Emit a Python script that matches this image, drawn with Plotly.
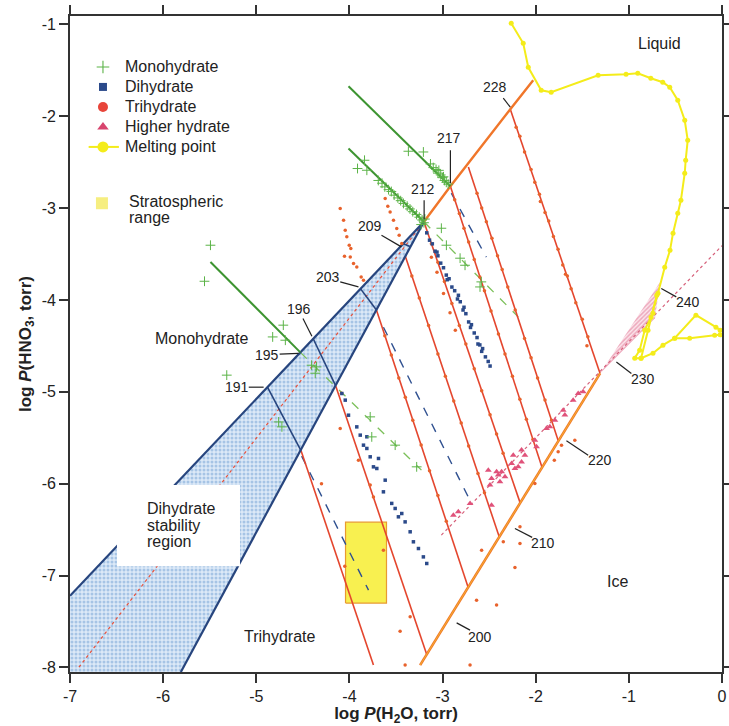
import plotly.graph_objects as go

# ---------------- data ----------------
x_ticks = [-7, -6, -5, -4, -3, -2, -1, 0]
x_ticklabels = ["-7", "-6", "-5", "-4", "-3", "-2", "-1", "0"]
y_ticks = [-1, -2, -3, -4, -5, -6, -7, -8]
y_ticklabels = ["-1", "-2", "-3", "-4", "-5", "-6", "-7", "-8"]

# dihydrate stability region (apex = 212 K point)
region_x = [-3.20, -7.00, -7.00, -5.81]
region_y = [-3.15, -7.22, -8.05, -8.05]
# boundary lines of the dihydrate region
bound_upper_x = [-3.20, -7.00]
bound_upper_y = [-3.15, -7.22]
bound_lower_x = [-3.20, -5.81]
bound_lower_y = [-3.15, -8.05]
# tie lines across dihydrate region (191, 196, 203, 209)
tie_x0 = [-4.88, -4.39, -3.88, -3.42]
tie_y0 = [-4.95, -4.42, -3.88, -3.39]
tie_x1 = [-4.52, -4.15, -3.71, -3.35]
tie_y1 = [-5.64, -4.93, -4.11, -3.42]

# trihydrate isotherms (red solid)
iso_x0 = [-4.52, -4.15, -3.71, -3.40, -3.20, -2.916, -2.723, -2.273]
iso_y0 = [-5.64, -4.93, -4.11, -3.525, -3.15, -2.763, -2.553, -1.925]
iso_x1 = [-3.742, -3.17, -2.723, -2.391, -2.166, -1.930, -1.759, -1.309]
iso_y1 = [-7.975, -7.86, -7.137, -6.582, -6.212, -5.83, -5.53, -4.80]

# ice frost line and NAT / liquid line
ice_x = [-3.241, -1.309]
ice_y = [-7.975, -4.80]
nat_x = [-3.20, -2.916, -2.273, -2.027]
nat_y = [-3.15, -2.763, -1.925, -1.609]
# NAT stoichiometric dotted line through the dihydrate region
natdot_x = [-6.904, -3.20]
natdot_y = [-7.997, -3.15]
# higher hydrate dotted line
hh_line_x = [-3.013, 0.0]
hh_line_y = [-6.56, -3.41]
# higher-hydrate fan wedge
fan_x = [-1.309, -0.666, -0.719]
fan_y = [-4.80, -3.807, -4.199]

# monohydrate lines (green solid)
mono_lines = [
    ([-4.01, -2.916], [-1.675, -2.763]),
    ([-4.01, -3.20], [-2.353, -3.15]),
    ([-5.492, -4.527], [-3.587, -4.571]),
]
# monohydrate dashed lines
mono_dash = [
    ([-3.20, -2.188], [-3.15, -4.185]),
    ([-4.527, -3.227], [-4.571, -5.853]),
]
# dihydrate dashed lines
di_dash = [
    ([-2.906, -2.530], [-2.839, -3.535]),
    ([-4.513, -3.795], [-5.70, -7.159]),
    ([-3.635, -2.723], [-4.297, -6.147]),
]

# measured points
mono_x = [-3.367, -3.206, -3.13, -3.10, -3.07, -3.05, -3.02, -3.00, -2.98, -2.96, -2.94, -3.04, -2.99,
          -3.838, -3.913, -3.813, -3.69, -3.65, -3.62, -3.58, -3.55, -3.52, -3.48, -3.45, -3.42, -3.38,
          -3.35, -3.32, -3.28, -3.25, -3.22, -3.20, -3.19, -3.23,
          -3.013, -2.959, -2.812, -2.759, -2.584, -2.598,
          -5.492, -5.556, -4.710, -4.824, -4.688, -5.317, -4.76, -4.725, -4.406, -4.353, -4.367,
          -3.777, -3.760, -3.509, -3.278]
mono_y = [-2.382, -2.390, -2.52, -2.56, -2.58, -2.62, -2.64, -2.67, -2.70, -2.72, -2.74, -2.59, -2.66,
          -2.480, -2.570, -2.589, -2.70, -2.73, -2.77, -2.80, -2.82, -2.86, -2.89, -2.92, -2.95, -2.98,
          -3.01, -3.04, -3.07, -3.10, -3.13, -3.16, -3.12, -3.18,
          -3.22, -3.405, -3.546, -3.623, -3.804, -3.859,
          -3.405, -3.797, -4.275, -4.403, -4.439, -4.819, -5.328, -5.382, -4.711, -4.729, -4.798,
          -5.273, -5.491, -5.581, -5.817]

di_x = [-3.17, -3.14, -3.11, -3.08, -3.05, -3.02, -2.99, -2.96, -2.93, -2.90, -2.87, -2.84, -2.81, -2.78,
        -2.75, -2.72, -2.69, -2.66, -2.63, -2.60, -2.57, -2.54, -2.51, -3.06, -2.95, -2.83, -2.70, -2.58,
        -2.49, -2.62, -2.77,
        -4.081, -4.045, -4.010, -3.921, -3.884, -3.849, -3.813, -3.777, -3.688, -3.706, -3.616, -3.635,
        -3.546, -3.509, -3.474, -3.402, -3.348, -3.313, -3.259, -3.206, -3.170, -3.813, -3.742, -3.438]
di_y = [-3.27, -3.35, -3.39, -3.47, -3.52, -3.60, -3.65, -3.73, -3.77, -3.86, -3.90, -3.99, -4.02, -4.11,
        -4.15, -4.24, -4.27, -4.36, -4.41, -4.49, -4.53, -4.62, -4.67, -3.48, -3.78, -3.95, -4.30, -4.56,
        -4.72, -4.48, -4.08,
        -5.019, -5.091, -5.255, -5.382, -5.472, -5.581, -5.617, -5.708, -5.726, -5.835, -5.962, -6.089,
        -6.215, -6.270, -6.361, -6.416, -6.524, -6.633, -6.706, -6.797, -6.869, -5.490, -5.817, -6.325]

tri_x = [-4.099, -4.063, -4.045, -4.028, -4.002, -3.985, -4.053, -3.991, -3.956, -3.921, -3.874, -3.849,
         -3.616, -3.588, -3.563, -3.527, -3.492, -3.466, -3.438,
         -2.21, -2.17, -2.12, -2.05, -2.01, -1.96, -1.90, -1.86, -1.81, -1.76, -1.71, -1.66, -1.62, -1.57,
         -1.50, -1.44, -1.68, -1.95, -1.45,
         -2.63, -2.58, -2.53, -2.47, -2.41, -2.36, -2.30, -2.22, -2.12, -2.05, -1.98, -1.90, -1.83,
         -2.87, -2.82, -2.77, -2.72, -2.66, -2.60, -2.55, -2.48, -2.40, -2.33, -2.25, -2.17, -2.10, -2.03,
         -3.12, -3.05, -2.98, -2.90, -2.82, -2.75, -2.66, -2.58, -2.49, -2.42, -2.35,
         -3.120, -3.06, -2.99, -2.92, -2.863,
         -3.33, -3.25, -3.15, -3.05, -2.97, -2.88, -2.80, -2.72, -2.62, -2.55,
         -3.62, -3.55, -3.47, -3.40, -3.32, -3.23, -3.14, -3.05, -2.96,
         -3.903, -3.777, -3.742, -3.635, -4.099, -4.085, -4.30, -4.05,
         -3.402, -2.705, -2.635, -2.420, -2.581, -2.223, -3.348, -3.456, -2.348, -2.169, -2.009, -2.169,
         -1.580, -1.723, -1.759, -1.80]
tri_y = [-3.005, -3.133, -3.242, -3.314, -3.405, -3.441, -3.524, -3.532, -3.604, -3.641, -3.750, -3.786,
         -2.897, -2.980, -3.042, -3.133, -3.223, -3.296, -3.386,
         -2.12, -2.22, -2.39, -2.58, -2.72, -2.85, -3.05, -3.14, -3.31, -3.45, -3.62, -3.74, -3.88, -4.03,
         -4.21, -4.40, -3.72, -2.93, -4.50,
         -2.84, -3.00, -3.15, -3.33, -3.52, -3.67, -3.86, -4.11, -4.42, -4.63, -4.85, -5.09, -5.31,
         -2.91, -3.06, -3.22, -3.37, -3.56, -3.75, -3.90, -4.12, -4.37, -4.59, -4.83, -5.08, -5.30, -5.52,
         -3.39, -3.59, -3.80, -4.04, -4.28, -4.48, -4.75, -4.99, -5.25, -5.46, -5.67,
         -3.535, -3.70, -3.93, -4.14, -4.33,
         -3.74, -3.98, -4.28, -4.59, -4.83, -5.10, -5.34, -5.59, -5.89, -6.10,
         -4.39, -4.60, -4.85, -5.06, -5.31, -5.58, -5.86, -6.13, -6.41,
         -5.744, -6.016, -6.144, -6.724, -5.399, -5.015, -6.00, -6.90,
         -7.975, -7.975, -7.268, -7.322, -6.724, -6.912, -7.450, -7.606, -6.633, -6.651, -5.998, -6.470,
         -5.527, -5.581, -5.654, -5.744]

hh_x = [-2.884, -2.831, -2.705, -2.509, -2.474, -2.420, -2.402, -2.384, -2.491, -2.330, -2.259, -2.223,
        -2.188, -2.241, -2.152, -2.116, -2.152, -2.009, -1.991, -1.884, -1.848, -1.794, -1.705, -1.687,
        -1.598, -1.544, -1.491, -2.474, -2.366]
hh_y = [-6.343, -6.307, -6.216, -5.853, -5.943, -5.871, -5.907, -5.980, -6.016, -5.926, -5.780, -5.834,
        -5.817, -5.690, -5.635, -5.690, -5.763, -5.527, -5.599, -5.399, -5.382, -5.309, -5.200, -5.254,
        -5.091, -5.018, -5.001, -6.234, -5.871]

melt_x = [-2.263, -2.134, -2.080, -1.941, -1.834, -1.330, -1.030, -0.904, -0.764, -0.636, -0.561, -0.475,
          -0.400, -0.368, -0.390, -0.400, -0.441, -0.475, -0.526, -0.558, -0.615, -0.687, -0.762, -0.830,
          -0.884, -0.937, -0.869, -0.741, -0.634, -0.508, -0.280, -0.065, -0.02]
melt_y = [-0.989, -1.207, -1.468, -1.718, -1.740, -1.555, -1.544, -1.533, -1.588, -1.631, -1.686, -1.827,
          -2.045, -2.262, -2.480, -2.621, -2.915, -3.057, -3.274, -3.459, -3.644, -3.927, -4.188, -4.330,
          -4.547, -4.634, -4.634, -4.580, -4.493, -4.417, -4.166, -4.297, -4.33]
melt2_x = [-0.508, -0.347, -0.079, -0.02]
melt2_y = [-4.417, -4.417, -4.384, -4.38]
melt3_x = [-0.869, -0.794, -0.741, -0.70]
melt3_y = [-4.634, -4.330, -4.145, -3.95]

# stratospheric range box
strat_x = [-4.042, -3.602]
strat_y = [-7.300, -6.419]

# temperature labels: text, text position, leader start, leader end
temp_labels = ["228", "217", "212", "209", "203", "196", "195", "191", "200", "210", "220", "230", "240"]
temp_tx = [-2.437, -2.930, -3.206, -3.777, -4.232, -4.538, -4.885, -5.207, -2.598, -1.920, -1.312, -0.848, -0.366]
temp_ty = [-1.682, -2.240, -2.788, -3.195, -3.750, -4.104, -4.602, -4.953, -7.667, -6.644, -5.744, -4.866, -4.028]
lead_x0 = [-2.348, -2.916, -3.198, -3.656, -4.099, -4.499, -4.749, -5.081, -2.849, -2.223, -1.670, -1.134, -0.652]
lead_y0 = [-1.805, -2.371, -2.915, -3.296, -3.804, -4.202, -4.591, -4.950, -7.515, -6.488, -5.534, -4.675, -3.876]
lead_x1 = [-2.273, -2.916, -3.198, -3.442, -3.903, -4.403, -4.546, -4.921, -2.705, -2.038, -1.437, -0.973, -0.491]
lead_y1 = [-1.903, -2.730, -3.122, -3.423, -3.858, -4.395, -4.583, -4.950, -7.594, -6.585, -5.690, -4.801, -3.967]

# legend
legend_labels = ["Monohydrate", "Dihydrate", "Trihydrate", "Higher hydrate", "Melting point"]
legend_y = [-1.465, -1.682, -1.900, -2.118, -2.335]

# ---------------- colours ----------------
GREEN = "#3d9431"
GREEN_PT = "#5bb347"
NAVY = "#27457e"
NAVY_PT = "#2b4a8a"
RED = "#e4462e"
ORANGE = "#f0762a"
TRI = "#e8622c"
PINK = "#e0527a"
YELLOW = "#f4ec1a"
FONT = "Liberation Sans, Arial, Helvetica, sans-serif"

fig = go.Figure()


def add_line(xs, ys, color, width, dash="solid"):
    fig.add_trace(go.Scatter(x=xs, y=ys, mode="lines", line=dict(color=color, width=width, dash=dash),
                             showlegend=False, hoverinfo="skip"))


def segs(x0, y0, x1, y1):
    xs, ys = [], []
    for a, b, c, d in zip(x0, y0, x1, y1):
        xs += [a, c, None]
        ys += [b, d, None]
    return xs, ys


# dihydrate region fill
fig.add_trace(go.Scatter(x=region_x + [region_x[0]], y=region_y + [region_y[0]], mode="lines", fill="toself",
                         fillcolor="#d6e5f5", line=dict(width=0, color="rgba(0,0,0,0)"),
                         fillpattern=dict(shape=".", fgcolor="#6f9fd3", bgcolor="#dce9f7", size=4, solidity=0.45),
                         showlegend=False, hoverinfo="skip"))
# higher hydrate fan
fig.add_trace(go.Scatter(x=fan_x + [fan_x[0]], y=fan_y + [fan_y[0]], mode="lines", fill="toself",
                         fillcolor="#f6d2dc", line=dict(width=0, color="rgba(0,0,0,0)"),
                         fillpattern=dict(shape="/", fgcolor="#e06a8c", bgcolor="#fbe6ec", size=3, solidity=0.5),
                         showlegend=False, hoverinfo="skip"))

# stratospheric box
fig.add_trace(go.Scatter(x=[strat_x[0], strat_x[1], strat_x[1], strat_x[0], strat_x[0]],
                         y=[strat_y[0], strat_y[0], strat_y[1], strat_y[1], strat_y[0]],
                         mode="lines", fill="toself", fillcolor="#f8f050", line=dict(color="#e89a30", width=1.2),
                         showlegend=False, hoverinfo="skip"))

# dotted guide lines
add_line(natdot_x, natdot_y, "#e8503a", 1.2, "dot")
add_line(hh_line_x, hh_line_y, "#d6607a", 1.2, "dot")

# dashed data trend lines
for xs, ys in mono_dash:
    add_line(xs, ys, "#7cc05a", 1.3, "dash")
for xs, ys in di_dash:
    add_line(xs, ys, "#2f5090", 1.4, "dash")

# isotherms
sx, sy = segs(iso_x0, iso_y0, iso_x1, iso_y1)
add_line(sx, sy, RED, 1.6)
# ice line and NAT line
add_line(ice_x, ice_y, ORANGE, 2.6)
add_line(ice_x, ice_y, "#f6c030", 0.8)
add_line(nat_x, nat_y, ORANGE, 2.4)
# dihydrate boundaries and tie lines
add_line(bound_upper_x, bound_upper_y, NAVY, 2.2)
add_line(bound_lower_x, bound_lower_y, NAVY, 2.2)
sx, sy = segs(tie_x0, tie_y0, tie_x1, tie_y1)
add_line(sx, sy, NAVY, 1.6)
# monohydrate lines
for xs, ys in mono_lines:
    add_line(xs, ys, GREEN, 2.0)

# points
fig.add_trace(go.Scatter(x=tri_x, y=tri_y, mode="markers", marker=dict(symbol="circle", size=3.5, color=TRI),
                         showlegend=False, hoverinfo="skip"))
fig.add_trace(go.Scatter(x=di_x, y=di_y, mode="markers", marker=dict(symbol="square", size=3.5, color=NAVY_PT),
                         showlegend=False, hoverinfo="skip"))
fig.add_trace(go.Scatter(x=hh_x, y=hh_y, mode="markers", marker=dict(symbol="triangle-up", size=6, color=PINK),
                         showlegend=False, hoverinfo="skip"))
fig.add_trace(go.Scatter(x=mono_x, y=mono_y, mode="markers",
                         marker=dict(symbol="cross-thin", size=7, color=GREEN_PT, line=dict(color=GREEN_PT, width=1)),
                         showlegend=False, hoverinfo="skip"))

# melting point curve
for xs, ys in [(melt_x, melt_y), (melt2_x, melt2_y), (melt3_x, melt3_y)]:
    fig.add_trace(go.Scatter(x=xs, y=ys, mode="lines+markers", line=dict(color=YELLOW, width=2),
                             marker=dict(symbol="circle", size=5, color=YELLOW),
                             showlegend=False, hoverinfo="skip"))

# legend symbols
lx = -6.646
fig.add_trace(go.Scatter(x=[lx], y=[legend_y[0]], mode="markers",
                         marker=dict(symbol="cross-thin", size=9, color=GREEN_PT, line=dict(color=GREEN_PT, width=1.1)),
                         showlegend=False, hoverinfo="skip"))
fig.add_trace(go.Scatter(x=[lx], y=[legend_y[1]], mode="markers", marker=dict(symbol="square", size=8, color=NAVY_PT),
                         showlegend=False, hoverinfo="skip"))
fig.add_trace(go.Scatter(x=[lx], y=[legend_y[2]], mode="markers", marker=dict(symbol="circle", size=10, color="#e8453a"),
                         showlegend=False, hoverinfo="skip"))
fig.add_trace(go.Scatter(x=[lx], y=[legend_y[3]], mode="markers", marker=dict(symbol="triangle-up", size=10, color="#d8456e"),
                         showlegend=False, hoverinfo="skip"))
fig.add_trace(go.Scatter(x=[-6.80, -6.475], y=[legend_y[4], legend_y[4]], mode="lines", line=dict(color=YELLOW, width=2),
                         showlegend=False, hoverinfo="skip"))
fig.add_trace(go.Scatter(x=[lx], y=[legend_y[4]], mode="markers", marker=dict(symbol="circle", size=11, color=YELLOW),
                         showlegend=False, hoverinfo="skip"))
fig.add_trace(go.Scatter(x=[-6.657], y=[-2.948], mode="markers", marker=dict(symbol="square", size=12, color="#f6ee80"),
                         showlegend=False, hoverinfo="skip"))

# white box behind "Dihydrate stability region"
fig.add_shape(type="rect", x0=-6.496, x1=-5.175, y0=-6.898, y1=-6.016, xref="x", yref="y",
              fillcolor="white", line=dict(width=0), layer="above")

# leaders
for a, b, c, d in zip(lead_x0, lead_y0, lead_x1, lead_y1):
    fig.add_shape(type="line", x0=a, y0=b, x1=c, y1=d, xref="x", yref="y",
                  line=dict(color="#222222", width=1.2), layer="above")

annotations = []
for t, x, y in zip(temp_labels, temp_tx, temp_ty):
    annotations.append(dict(x=x, y=y, text=t, showarrow=False, font=dict(size=14, color="#222", family=FONT)))
for t, y in zip(legend_labels, legend_y):
    annotations.append(dict(x=-6.432, y=y, text=t, showarrow=False, xanchor="left",
                            font=dict(size=16, color="#222", family=FONT)))
annotations.append(dict(x=-6.389, y=-2.925, text="Stratospheric", showarrow=False, xanchor="left",
                        font=dict(size=16, color="#222", family=FONT)))
annotations.append(dict(x=-6.389, y=-3.105, text="range", showarrow=False, xanchor="left",
                        font=dict(size=16, color="#222", family=FONT)))
region_text = [("Liquid", -0.666, -1.210), ("Ice", -1.123, -7.069), ("Monohydrate", -5.588, -4.420),
               ("Trihydrate", -4.742, -7.667)]
for t, x, y in region_text:
    annotations.append(dict(x=x, y=y, text=t, showarrow=False, font=dict(size=16, color="#222", family=FONT)))
for t, y in [("Dihydrate", -6.267), ("stability", -6.451), ("region", -6.631)]:
    annotations.append(dict(x=-6.196, y=y, text=t, showarrow=False, xanchor="left",
                            font=dict(size=16, color="#222", family=FONT)))

fig.update_layout(
    width=729, height=726,
    margin=dict(l=70, r=7, t=16, b=54, autoexpand=False),
    paper_bgcolor="white", plot_bgcolor="white",
    font=dict(family=FONT, size=16, color="#222"),
    annotations=annotations,
    showlegend=False,
)
fig.update_xaxes(range=[-7, 0], tickvals=x_ticks, ticktext=x_ticklabels, ticks="outside", ticklen=9,
                 tickwidth=1.5, tickcolor="#333", showline=True, linecolor="#333", linewidth=1.6, mirror="ticks",
                 showgrid=False, zeroline=False, tickfont=dict(size=16, color="#222"), automargin=False,
                 title=dict(text="<b>log <i>P</i>(H<sub>2</sub>O, torr)</b>", font=dict(size=17, color="#222"),
                            standoff=4))
fig.update_yaxes(range=[-8.05, -0.91], tickvals=y_ticks, ticktext=y_ticklabels, ticks="outside", ticklen=9,
                 tickwidth=1.5, tickcolor="#333", showline=True, linecolor="#333", linewidth=1.6, mirror="ticks",
                 showgrid=False, zeroline=False, tickfont=dict(size=16, color="#222"), automargin=False,
                 title=dict(text="<b>log <i>P</i>(HNO<sub>3</sub>, torr)</b>", font=dict(size=17, color="#222"),
                            standoff=6))

fig.write_html("out.html")
